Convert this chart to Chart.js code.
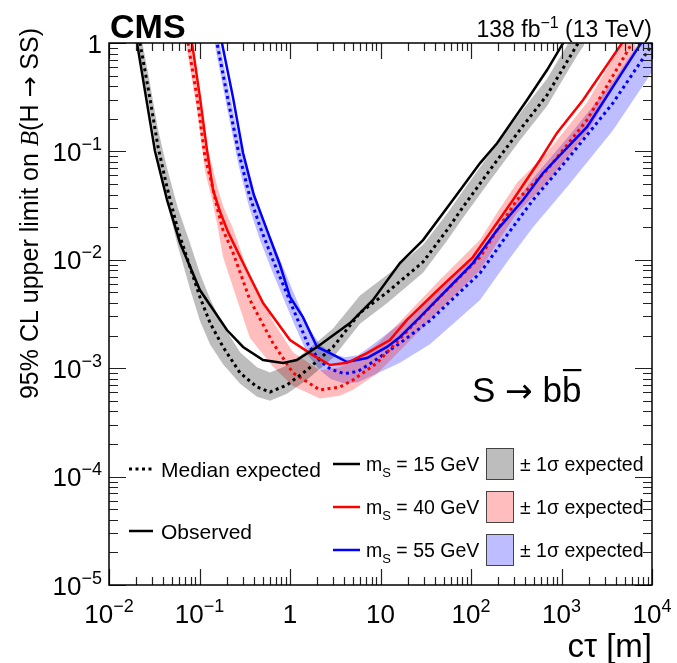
<!DOCTYPE html>
<html lang="en">
<head>
<meta charset="UTF-8">
<title>CMS H to SS, S to bb limits</title>
<script src="https://cdn.jsdelivr.net/npm/chart.js@4.4.1/dist/chart.umd.min.js"></script>
<style>
  html, body { margin: 0; padding: 0; background: #fff; }
  #wrap { width: 677px; height: 663px; }
</style>
</head>
<body>
<div id="wrap"><canvas id="limits" width="677" height="663"></canvas></div>
<script>
// c*tau [m] and 95% CL limits
// m_S = 15 GeV
const ctauExp15  = [0.0209, 0.022, 0.0282, 0.0347, 0.0437, 0.0575, 0.0785, 0.101, 0.131, 0.182, 0.281, 0.432, 0.601, 0.927, 1.54, 2.99, 5.93, 11.8, 29.5, 54.3, 81.7, 162, 347, 692, 1479, 1778];
const limExp15   = [1.32, 1.0, 0.316, 0.112, 0.0468, 0.0191, 0.00859, 0.00454, 0.00261, 0.00157, 0.000904, 0.000671, 0.000603, 0.0007, 0.000962, 0.00157, 0.00324, 0.00501, 0.00955, 0.0188, 0.0307, 0.0676, 0.158, 0.331, 0.955, 1.2];
const limExpHi15 = [1.74, 1.32, 0.437, 0.162, 0.0708, 0.0302, 0.01426, 0.00753, 0.00434, 0.00249, 0.0014, 0.00102, 0.000912, 0.00106, 0.00146, 0.00232, 0.00468, 0.00724, 0.0138, 0.0266, 0.0434, 0.0955, 0.224, 0.468, 1.35, 1.7];
const limExpLo15 = [1.0, 0.759, 0.24, 0.0832, 0.0339, 0.0135, 0.00542, 0.00274, 0.00165, 0.00109, 0.000718, 0.000546, 0.000501, 0.000582, 0.000782, 0.00125, 0.00257, 0.00398, 0.00759, 0.015, 0.0244, 0.0537, 0.126, 0.263, 0.759, 0.955];
const ctauObs15  = [0.0195, 0.0204, 0.0322, 0.0438, 0.061, 0.101, 0.201, 0.303, 0.504, 0.838, 1.19, 1.99, 4.6, 8.26, 16.4, 29.5, 63, 126, 194, 416, 692, 1014, 1202];
const limObs15   = [1.32, 1.0, 0.101, 0.0356, 0.0143, 0.00526, 0.00225, 0.00157, 0.00119, 0.00112, 0.00119, 0.00157, 0.00261, 0.00426, 0.00933, 0.0152, 0.0356, 0.078, 0.119, 0.298, 0.563, 0.96, 1.2];

// m_S = 40 GeV
const ctauExp40  = [0.0724, 0.0746, 0.0938, 0.115, 0.137, 0.156, 0.182, 0.234, 0.361, 0.649, 1.08, 2.14, 3.56, 4.97, 9.14, 15.2, 45.4, 126, 194, 322, 692, 1914, 5433, 6607];
const limExp40   = [1.32, 1.0, 0.318, 0.0887, 0.0501, 0.0307, 0.0188, 0.0117, 0.00426, 0.0017, 0.000904, 0.00063, 0.000671, 0.000778, 0.00112, 0.00175, 0.00454, 0.0106, 0.0188, 0.0356, 0.0673, 0.195, 0.861, 1.15];
const limExpHi40 = [1.74, 1.32, 0.439, 0.128, 0.0759, 0.0486, 0.0313, 0.0195, 0.00706, 0.0027, 0.0014, 0.000953, 0.00102, 0.00118, 0.00165, 0.00252, 0.00656, 0.0153, 0.0272, 0.0515, 0.0973, 0.282, 1.24, 1.66];
const limExpLo40 = [1.0, 0.759, 0.241, 0.0658, 0.0363, 0.0217, 0.0106, 0.00562, 0.0019, 0.00103, 0.000686, 0.000524, 0.000558, 0.000632, 0.000887, 0.00136, 0.00344, 0.00805, 0.0143, 0.027, 0.0511, 0.148, 0.653, 0.871];
const ctauObs40  = [0.0794, 0.0826, 0.101, 0.121, 0.141, 0.169, 0.207, 0.303, 0.504, 1.0, 1.79, 2.77, 4.27, 7.1, 12.7, 19.6, 45.4, 105, 162, 291, 578, 891, 1730, 4667, 5623];
const limObs40   = [1.32, 1.0, 0.318, 0.103, 0.0441, 0.0276, 0.018, 0.00933, 0.00399, 0.00182, 0.00132, 0.00107, 0.00112, 0.00138, 0.00182, 0.00279, 0.0055, 0.0106, 0.0177, 0.0356, 0.0834, 0.148, 0.298, 1.0, 1.26];

// m_S = 55 GeV
const ctauExp55  = [0.148, 0.156, 0.204, 0.269, 0.355, 0.468, 0.646, 1.08, 1.58, 2.14, 2.82, 3.98, 5.62, 7.66, 16.4, 35.2, 126, 250, 484, 1151, 3707, 9506, 11220];
const limExp55   = [1.26, 1.0, 0.316, 0.1, 0.0398, 0.02, 0.01, 0.00355, 0.00166, 0.00117, 0.000977, 0.000891, 0.000933, 0.0011, 0.0017, 0.00275, 0.00755, 0.0169, 0.0356, 0.0834, 0.28, 0.9, 1.12];
const limExpHi55 = [1.66, 1.32, 0.427, 0.138, 0.0562, 0.0288, 0.0145, 0.00513, 0.0024, 0.00166, 0.00138, 0.00126, 0.00132, 0.00158, 0.00257, 0.00437, 0.012, 0.0269, 0.0565, 0.132, 0.444, 1.43, 1.78];
const limExpLo55 = [0.955, 0.759, 0.24, 0.0759, 0.0302, 0.0151, 0.00759, 0.00269, 0.00132, 0.000955, 0.000794, 0.000724, 0.000741, 0.000832, 0.00112, 0.00166, 0.00425, 0.00953, 0.02, 0.0469, 0.157, 0.506, 0.631];
const ctauObs55  = [0.17, 0.177, 0.234, 0.303, 0.398, 0.557, 0.776, 1.0, 1.39, 1.99, 2.77, 4.27, 7.1, 11.8, 16.4, 27.3, 105, 194, 376, 625, 1914, 7362, 8913];
const limObs55   = [1.26, 1.0, 0.318, 0.0966, 0.0398, 0.0188, 0.00895, 0.00454, 0.00296, 0.00157, 0.00138, 0.00114, 0.00124, 0.00157, 0.00194, 0.00296, 0.00933, 0.0188, 0.0356, 0.0632, 0.168, 0.96, 1.2];

const massLabels = ['15', '40', '55'];
const xTickExps = [-2, -1, 0, 1, 2, 3, 4];
const yTickExps = [-5, -4, -3, -2, -1, 0];

const SANS = '"Liberation Sans", Arial, Helvetica, "DejaVu Sans", sans-serif';
const ARROW = '"DejaVu Sans", sans-serif';
const lineCols = ['#000000', '#ff0000', '#0000ff'];
const bandCols = ['rgba(0,0,0,0.26)', 'rgba(255,0,0,0.26)', 'rgba(0,0,255,0.26)'];

function pts(xs, ys) {
    return xs.map((x, i) => ({ x: x, y: ys[i] }));
}

const series = [
    [ctauExp15, limExp15, limExpHi15, limExpLo15, ctauObs15, limObs15],
    [ctauExp40, limExp40, limExpHi40, limExpLo40, ctauObs40, limObs40],
    [ctauExp55, limExp55, limExpHi55, limExpLo55, ctauObs55, limObs55]
];

const datasets = [];
series.forEach((s, m) => {
    const common = { pointRadius: 0, clip: 0, tension: 0 };
    datasets.push(Object.assign({ data: pts(s[0], s[2]), borderWidth: 0, backgroundColor: bandCols[m], fill: '+1', order: 3 }, common));
    datasets.push(Object.assign({ data: pts(s[0], s[3]), borderWidth: 0, fill: false, order: 3 }, common));
    datasets.push(Object.assign({ data: pts(s[0], s[1]), borderColor: lineCols[m], borderWidth: 3, borderDash: [3, 3.5], fill: false, order: 2 }, common));
    datasets.push(Object.assign({ data: pts(s[4], s[5]), borderColor: lineCols[m], borderWidth: 2.5, fill: false, order: 1 }, common));
});

// draw a run of text pieces (for superscripts / mixed fonts)
function drawPieces(ctx, pieces, x, y, align) {
    let total = 0;
    const widths = pieces.map(p => {
        ctx.font = p.f;
        const w = ctx.measureText(p.t).width;
        total += w;
        return w;
    });
    let cx = align === 'right' ? x - total : (align === 'center' ? x - total / 2 : x);
    ctx.textAlign = 'left';
    pieces.forEach((p, i) => {
        ctx.font = p.f;
        ctx.fillText(p.t, cx, y + (p.dy || 0));
        cx += widths[i];
    });
    return cx;
}

function powPieces(e) {
    if (e === 0) return [{ t: '1', f: '26px ' + SANS }];
    if (e === 1) return [{ t: '10', f: '26px ' + SANS }];
    const ex = e < 0 ? '\u2212' + (-e) : String(e);
    return [{ t: '10', f: '26px ' + SANS }, { t: ex, f: '18px ' + SANS, dy: -11 }];
}

const rootFrame = {
    id: 'rootFrame',
    afterDraw(chart) {
        const { ctx, chartArea: a, scales } = chart;
        const xs = scales.x, ys = scales.y;
        ctx.save();

        // ticks on all four sides, pointing inward
        ctx.strokeStyle = '#222';
        ctx.lineWidth = 1.2;
        ctx.beginPath();
        xTickExps.forEach(e => {
            for (let k = 1; k <= 9; k++) {
                const v = k * Math.pow(10, e);
                if (v > 10000.1) break;
                const px = Math.round(xs.getPixelForValue(v)) + 0.5;
                const len = k === 1 ? 16 : 8;
                ctx.moveTo(px, a.bottom); ctx.lineTo(px, a.bottom - len);
                ctx.moveTo(px, a.top); ctx.lineTo(px, a.top + len);
            }
        });
        yTickExps.forEach(e => {
            for (let k = 1; k <= 9; k++) {
                const v = k * Math.pow(10, e);
                if (v > 1.0001) break;
                const py = Math.round(ys.getPixelForValue(v)) + 0.5;
                const len = k === 1 ? 17 : 9;
                ctx.moveTo(a.left, py); ctx.lineTo(a.left + len, py);
                ctx.moveTo(a.right, py); ctx.lineTo(a.right - len, py);
            }
        });
        ctx.stroke();

        // frame
        ctx.strokeStyle = '#000';
        ctx.lineWidth = 1.5;
        ctx.strokeRect(a.left, a.top, a.right - a.left, a.bottom - a.top);

        ctx.fillStyle = '#000';
        ctx.textBaseline = 'alphabetic';

        // tick labels
        yTickExps.forEach(e => {
            const py = ys.getPixelForValue(Math.pow(10, e));
            drawPieces(ctx, powPieces(e), a.left - 7, py + 9.5, 'right');
        });
        xTickExps.forEach(e => {
            const px = xs.getPixelForValue(Math.pow(10, e));
            drawPieces(ctx, powPieces(e), px, a.bottom + 38, 'center');
        });

        // axis titles
        drawPieces(ctx, [
            { t: 'c\u03c4 [m]', f: '33px ' + SANS }
        ], a.right, 657, 'right');

        ctx.save();
        ctx.translate(38, 28);
        ctx.rotate(-Math.PI / 2);
        drawPieces(ctx, [
            { t: '95% CL upper limit on ', f: '25px ' + SANS },
            { t: 'B', f: 'italic 25px "Liberation Serif", "DejaVu Serif", serif' },
            { t: '(H ', f: '25px ' + SANS },
            { t: '\u2192', f: '25px ' + ARROW },
            { t: ' SS)', f: '25px ' + SANS }
        ], 0, 0, 'right');
        ctx.restore();

        // header
        ctx.font = 'bold 34px ' + SANS;
        ctx.textAlign = 'left';
        ctx.fillText('CMS', a.left + 1, 38);
        drawPieces(ctx, [
            { t: '138 fb', f: '23px ' + SANS },
            { t: '\u22121', f: '16px ' + SANS, dy: -9 },
            { t: ' (13 TeV)', f: '23px ' + SANS }
        ], a.right, 37, 'right');

        // decay channel
        const bx = drawPieces(ctx, [
            { t: 'S ', f: '35px ' + SANS },
            { t: '\u2192', f: '33px ' + ARROW },
            { t: ' b', f: '35px ' + SANS }
        ], 472, 402, 'left');
        ctx.font = '35px ' + SANS;
        ctx.fillText('b', bx, 402);
        const bw = ctx.measureText('b').width;
        ctx.fillRect(bx + 1, 369, bw - 1, 2.2);

        // legend, left column
        ctx.strokeStyle = '#000';
        ctx.lineWidth = 3;
        ctx.setLineDash([3, 3.5]);
        ctx.beginPath(); ctx.moveTo(129, 469); ctx.lineTo(153, 469); ctx.stroke();
        ctx.setLineDash([]);
        ctx.lineWidth = 2.5;
        ctx.beginPath(); ctx.moveTo(129, 531); ctx.lineTo(153, 531); ctx.stroke();
        drawPieces(ctx, [{ t: 'Median expected', f: '21px ' + SANS }], 161, 477, 'left');
        drawPieces(ctx, [{ t: 'Observed', f: '21px ' + SANS }], 161, 539, 'left');

        // legend, mass rows
        const rowY = [464, 507, 550];
        massLabels.forEach((m, i) => {
            const yy = rowY[i];
            ctx.strokeStyle = lineCols[i];
            ctx.lineWidth = 2.5;
            ctx.beginPath(); ctx.moveTo(333, yy); ctx.lineTo(360, yy); ctx.stroke();
            ctx.fillStyle = '#000';
            drawPieces(ctx, [
                { t: 'm', f: '19.5px ' + SANS },
                { t: 'S', f: '13px ' + SANS, dy: 6 },
                { t: ' = ' + m + ' GeV', f: '19.5px ' + SANS }
            ], 366, yy + 7, 'left');
            ctx.fillStyle = '#fff';
            ctx.fillRect(486, yy - 16, 28, 32);
            ctx.fillStyle = bandCols[i];
            ctx.fillRect(486, yy - 16, 28, 32);
            ctx.strokeStyle = '#444';
            ctx.lineWidth = 1;
            ctx.strokeRect(486.5, yy - 15.5, 27, 31);
            ctx.fillStyle = '#000';
            drawPieces(ctx, [{ t: '\u00b1 1\u03c3 expected', f: '19.5px ' + SANS }], 520, yy + 7, 'left');
        });

        ctx.restore();
    }
};

const chart = new Chart(document.getElementById('limits').getContext('2d'), {
    type: 'line',
    data: { datasets: datasets },
    options: {
        responsive: false,
        animation: false,
        devicePixelRatio: 1,
        layout: { padding: { left: 109, right: 25, top: 43, bottom: 78 } },
        plugins: { legend: { display: false }, tooltip: { enabled: false } },
        scales: {
            x: { type: 'logarithmic', min: 0.01, max: 10000, display: false },
            y: { type: 'logarithmic', min: 1e-5, max: 1, display: false }
        }
    },
    plugins: [rootFrame]
});
</script>
</body>
</html>
